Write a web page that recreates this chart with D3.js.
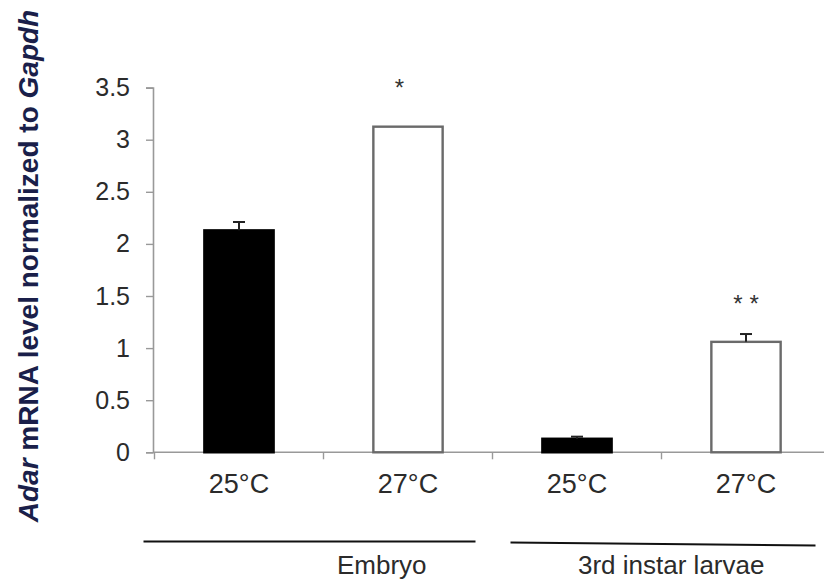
<!DOCTYPE html>
<html>
<head>
<meta charset="utf-8">
<script src="https://cdn.jsdelivr.net/npm/d3@7"></script>
<style>
  body { margin: 0; background: #fff; }
  svg { display: block; font-family: "Liberation Sans", Arial, sans-serif; }
</style>
</head>
<body>
<script>
// bars, left to right
var categories = ["25°C", "27°C", "25°C", "27°C"];
var means = [2.13, 3.125, 0.13, 1.06];
var errors = [0.08, 0, 0.02, 0.075];
var fills = ["#000", "#fff", "#000", "#fff"];
var marks = ["", "*", "", "**"];
var yTicks = [0, 0.5, 1, 1.5, 2, 2.5, 3, 3.5];
var groups = ["Embryo", "3rd instar larvae"];

var rows = categories.map(function(c, i) {
  return { i: i, cat: c, mean: means[i], err: errors[i], fill: fills[i], mark: marks[i] };
});

var W = 824, H = 584;

var svg = d3.select("body").append("svg")
    .attr("width", W)
    .attr("height", H);

var x = d3.scaleBand()
    .domain(d3.range(categories.length))
    .range([154.5, 830.5])
    .padding(0);

var y = d3.scaleLinear()
    .domain([0, 3.5])
    .range([452.3, 87.6]);

var barW = x.bandwidth() * 0.41;
function cx(d) { return x(d.i) + x.bandwidth() / 2; }

// y axis
var yAxis = svg.append("g")
    .attr("transform", "translate(153,0)")
    .call(d3.axisLeft(y).tickValues(yTicks).tickFormat(d3.format("")).tickSize(7).tickPadding(16));
yAxis.select(".domain").attr("stroke", "#999").attr("stroke-width", 1.6);
yAxis.selectAll(".tick line").attr("stroke", "#999").attr("stroke-width", 1.4);
yAxis.selectAll(".tick text")
    .attr("fill", "#2b2b2b")
    .style("font-size", "25px");

// x axis (runs off the right edge like the original)
var xAxisG = svg.append("g").attr("transform", "translate(0,452.3)");
xAxisG.append("line")
    .attr("x1", 153).attr("x2", W)
    .attr("stroke", "#999").attr("stroke-width", 1.6);
xAxisG.selectAll(".xtick")
    .data(d3.range(categories.length + 1))
    .enter().append("line")
    .attr("x1", function(i) { return i < categories.length ? x(i) : x(i - 1) + x.bandwidth(); })
    .attr("x2", function(i) { return i < categories.length ? x(i) : x(i - 1) + x.bandwidth(); })
    .attr("y1", 0).attr("y2", 7)
    .attr("stroke", "#999").attr("stroke-width", 1.4);
xAxisG.selectAll(".xlabel")
    .data(rows)
    .enter().append("text")
    .attr("x", cx)
    .attr("y", 41)
    .attr("text-anchor", "middle")
    .attr("fill", "#2b2b2b")
    .style("font-size", "27px")
    .text(function(d) { return d.cat; });

// bars
svg.selectAll(".bar")
    .data(rows)
    .enter().append("rect")
    .attr("x", function(d) { return cx(d) - barW / 2; })
    .attr("y", function(d) { return y(d.mean); })
    .attr("width", barW)
    .attr("height", function(d) { return y(0) - y(d.mean); })
    .attr("fill", function(d) { return d.fill; })
    .attr("stroke", function(d) { return d.fill == "#000" ? "#000" : "#6a6a6a"; })
    .attr("stroke-width", 2.4);

// error bars (upper only)
var eb = svg.selectAll(".err")
    .data(rows.filter(function(d) { return d.err > 0; }))
    .enter().append("g");
eb.append("line")
    .attr("x1", cx).attr("x2", cx)
    .attr("y1", function(d) { return y(d.mean); })
    .attr("y2", function(d) { return y(d.mean + d.err); })
    .attr("stroke", "#222").attr("stroke-width", 2);
eb.append("line")
    .attr("x1", function(d) { return cx(d) - 6; })
    .attr("x2", function(d) { return cx(d) + 6; })
    .attr("y1", function(d) { return y(d.mean + d.err); })
    .attr("y2", function(d) { return y(d.mean + d.err); })
    .attr("stroke", "#222").attr("stroke-width", 2);

// significance stars
svg.selectAll(".star")
    .data(rows.filter(function(d) { return d.mark; }))
    .enter().append("text")
    .attr("x", function(d) { return cx(d) + (d.mark.length > 1 ? 3.5 : -5); })
    .attr("y", function(d) { return y(d.mean + d.err) - (d.mark.length > 1 ? 22 : 31); })
    .attr("text-anchor", "middle")
    .attr("fill", "#333")
    .style("font-size", "24px")
    .style("letter-spacing", "7px")
    .text(function(d) { return d.mark; });

// y axis title
var title = svg.append("text")
    .attr("transform", "translate(37.5,266) rotate(-90)")
    .attr("text-anchor", "middle")
    .attr("fill", "#1a1f4a")
    .style("font-weight", "bold")
    .style("font-size", "28px");
title.append("tspan").style("font-style", "italic").text("Adar");
title.append("tspan").text(" mRNA level normalized to ");
title.append("tspan").style("font-style", "italic").text("Gapdh");

// group annotations under the categories
var groupSpans = [
    { x1: x(0) - 11, x2: x(1) + x.bandwidth() - 17, y1: 541.5, y2: 541.5, tx: 337 },
    { x1: x(2) + 18, x2: x(3) + x.bandwidth() - 15, y1: 542.5, y2: 545.5, tx: 578 }
];
var gg = svg.selectAll(".grp")
    .data(groups)
    .enter().append("g");
gg.append("line")
    .attr("x1", function(d, i) { return groupSpans[i].x1; })
    .attr("x2", function(d, i) { return groupSpans[i].x2; })
    .attr("y1", function(d, i) { return groupSpans[i].y1; })
    .attr("y2", function(d, i) { return groupSpans[i].y2; })
    .attr("stroke", "#111").attr("stroke-width", 2);
gg.append("text")
    .attr("x", function(d, i) { return groupSpans[i].tx; })
    .attr("y", 574)
    .attr("fill", "#2b2b2b")
    .style("font-size", "26px")
    .text(function(d) { return d; });
</script>
</body>
</html>
